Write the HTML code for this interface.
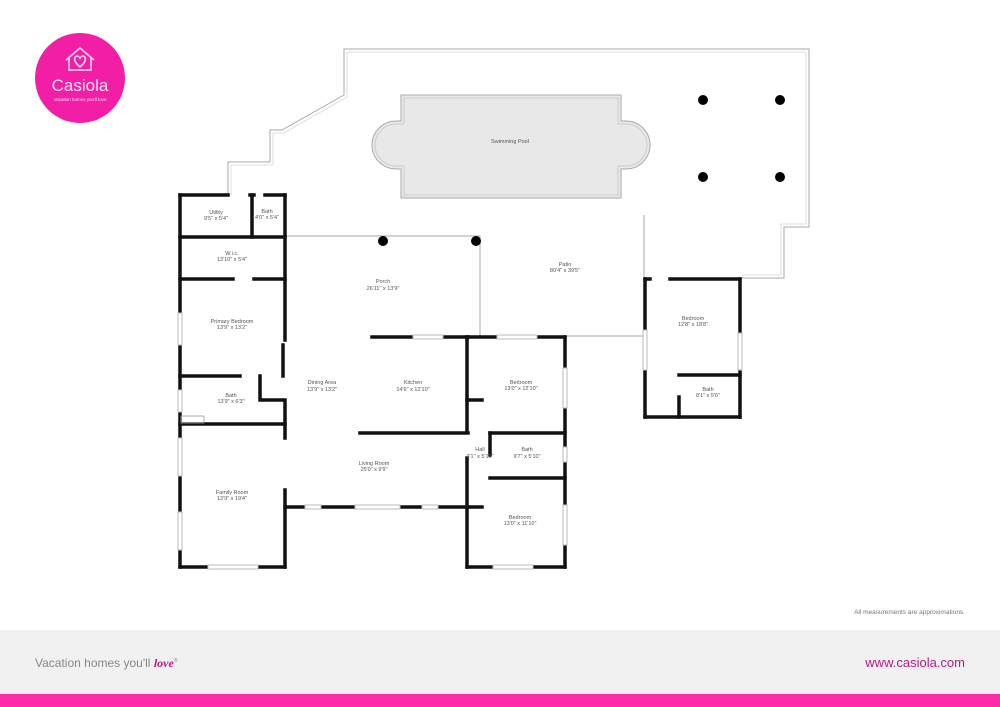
<!DOCTYPE html>
<html><head><meta charset="utf-8"><style>
html,body{margin:0;padding:0;background:#fff;width:1000px;height:707px;overflow:hidden;font-family:"Liberation Sans",sans-serif}
</style></head><body>
<svg width="1000" height="707" viewBox="0 0 1000 707" xmlns="http://www.w3.org/2000/svg" font-family="Liberation Sans, sans-serif">
<rect width="1000" height="707" fill="#fff"/>
<!-- logo -->
<circle cx="80" cy="78" r="45" fill="#f21fa6"/>
<g stroke="#ffd7f0" stroke-width="1.6" fill="none">
<path d="M66 60 L80 48 L94 60 M69 58 V70 H91 V58"/>
<path d="M80 67 C74 62 73 57 77 56 C79 56 80 58 80 59 C80 58 81 56 83 56 C87 57 86 62 80 67 Z"/>
</g>
<text x="80" y="91" font-size="17" fill="#ffe3f4" text-anchor="middle">Casiola</text>
<text x="80" y="101" font-size="4.5" fill="#ffe3f4" text-anchor="middle">Vacation homes you'll love</text>

<!-- patio outline -->
<g fill="none" stroke="#aaa" stroke-width="1">
<polyline points="228,195 228,162 270,162 270,130 282,130 344,95 344,49 809,49 809,227 784,227 784,278 742,278"/>
<polyline points="231,195 231,165 273,165 273,133 284,133 347,97 347,52 806,52 806,224 781,224 781,275 742,275" stroke="#ddd"/>
<polyline points="285,236 480,236 480,336"/>
<line x1="565" y1="336" x2="645" y2="336"/>
<line x1="644" y1="215" x2="644" y2="278"/>
</g>
<!-- pool -->
<path d="M401 95 H621 V121 H626 A24 24 0 0 1 626 169 H621 V198 H401 V169 H396 A24 24 0 0 1 396 121 H401 Z" fill="#e8e8e8" stroke="#aaa" stroke-width="1"/>
<path d="M404 98 H618 V124 H626 A21 21 0 0 1 626 166 H618 V195 H404 V166 H396 A21 21 0 0 1 396 124 H404 Z" fill="#e8e8e8" stroke="#ccc" stroke-width="1"/>
<g fill="#000">
<circle cx="703" cy="100" r="5"/><circle cx="780" cy="100" r="5"/>
<circle cx="703" cy="177" r="5"/><circle cx="780" cy="177" r="5"/>
<circle cx="383" cy="241" r="5"/><circle cx="476" cy="241" r="5"/>
</g>

<!-- walls -->
<g stroke="#111" stroke-width="3.5" fill="none" stroke-linecap="square">
<line x1="180" y1="195" x2="180" y2="567"/>
<line x1="180" y1="195" x2="228" y2="195"/>
<line x1="250" y1="195" x2="254" y2="195"/>
<line x1="265" y1="195" x2="285" y2="195"/>
<line x1="285" y1="195" x2="285" y2="340"/>
<line x1="252" y1="195" x2="252" y2="237"/>
<line x1="180" y1="237" x2="285" y2="237"/>
<line x1="180" y1="279" x2="233" y2="279"/>
<line x1="254" y1="279" x2="285" y2="279"/>
<line x1="283" y1="345" x2="283" y2="376"/>
<line x1="180" y1="376" x2="240" y2="376"/>
<polyline points="260,376 260,400 285,400 285,438"/>
<line x1="180" y1="424" x2="285" y2="424"/>
<line x1="285" y1="490" x2="285" y2="567"/>
<line x1="180" y1="567" x2="285" y2="567"/>
<line x1="285" y1="507" x2="482" y2="507"/>
<line x1="372" y1="337" x2="468" y2="337"/>
<line x1="360" y1="433" x2="468" y2="433"/>
<line x1="467" y1="337" x2="467" y2="432"/>
<line x1="467" y1="458" x2="467" y2="567"/>
<line x1="467" y1="400" x2="482" y2="400"/>
<line x1="467" y1="337" x2="565" y2="337"/>
<line x1="565" y1="337" x2="565" y2="567"/>
<line x1="490" y1="433" x2="565" y2="433"/>
<line x1="490" y1="433" x2="490" y2="455"/>
<line x1="490" y1="478" x2="565" y2="478"/>
<line x1="467" y1="567" x2="565" y2="567"/>
<line x1="645" y1="279" x2="645" y2="417"/>
<line x1="645" y1="279" x2="650" y2="279"/>
<line x1="670" y1="279" x2="740" y2="279"/>
<line x1="740" y1="279" x2="740" y2="417"/>
<line x1="645" y1="417" x2="740" y2="417"/>
<line x1="679" y1="375" x2="740" y2="375"/>
<line x1="679" y1="397" x2="679" y2="417"/>
</g>
<!-- windows -->
<g fill="#fff" stroke="#bbb" stroke-width="1">
<rect x="178" y="313" width="4" height="32"/>
<rect x="178" y="390" width="4" height="22"/>
<rect x="178" y="438" width="4" height="38"/>
<rect x="178" y="512" width="4" height="38"/>
<rect x="208" y="565" width="50" height="4"/>
<rect x="305" y="505" width="16" height="4"/>
<rect x="355" y="505" width="45" height="4"/>
<rect x="422" y="505" width="16" height="4"/>
<rect x="413" y="335" width="30" height="4"/>
<rect x="497" y="335" width="40" height="4"/>
<rect x="563" y="368" width="4" height="40"/>
<rect x="563" y="447" width="4" height="15"/>
<rect x="563" y="505" width="4" height="40"/>
<rect x="493" y="565" width="40" height="4"/>
<rect x="643" y="330" width="4" height="40"/>
<rect x="738" y="333" width="4" height="37"/>
</g>
<rect x="181" y="416" width="23" height="7" fill="none" stroke="#999" stroke-width="0.8"/>

<!-- labels -->
<g font-size="5.5" fill="#555" text-anchor="middle">
<text x="510" y="143">Swimming Pool</text>
<text x="216" y="214">Utility</text><text x="216" y="220">9'5" x 5'4"</text>
<text x="267" y="213">Bath</text><text x="267" y="219">4'0" x 5'4"</text>
<text x="232" y="255">W.i.c.</text><text x="232" y="261">13'10" x 5'4"</text>
<text x="383" y="283">Porch</text><text x="383" y="290">26'11" x 13'9"</text>
<text x="565" y="266">Patio</text><text x="565" y="272">80'4" x 39'5"</text>
<text x="232" y="323">Primary Bedroom</text><text x="232" y="329">13'9" x 13'2"</text>
<text x="322" y="384">Dining Area</text><text x="322" y="391">13'9" x 13'2"</text>
<text x="413" y="384">Kitchen</text><text x="413" y="391">14'6" x 12'10"</text>
<text x="231" y="397">Bath</text><text x="231" y="403">13'9" x 6'3"</text>
<text x="374" y="465">Living Room</text><text x="374" y="471">25'0" x 9'9"</text>
<text x="232" y="494">Family Room</text><text x="232" y="500">13'9" x 19'4"</text>
<text x="521" y="384">Bedroom</text><text x="521" y="390">13'0" x 12'10"</text>
<text x="480" y="451">Hall</text><text x="480" y="458">3'1" x 5'10"</text>
<text x="527" y="451">Bath</text><text x="527" y="458">9'7" x 5'10"</text>
<text x="520" y="519">Bedroom</text><text x="520" y="525">13'0" x 11'10"</text>
<text x="693" y="320">Bedroom</text><text x="693" y="326">12'8" x 18'8"</text>
<text x="708" y="391">Bath</text><text x="708" y="397">8'1" x 5'6"</text>
</g>
<text x="965" y="614" font-size="6.5" fill="#777" text-anchor="end">All measurements are approximations.</text>

<!-- footer -->
<rect x="0" y="630" width="1000" height="64" fill="#f1f1f1"/>
<rect x="0" y="694" width="1000" height="13" fill="#ff2aa6"/>
<text x="35" y="667" font-size="12" fill="#888">Vacation homes you'll <tspan fill="#c0168a" font-style="italic" font-weight="bold" font-family="Liberation Serif, serif">love</tspan><tspan font-size="5" dy="-5">®</tspan></text>
<text x="965" y="667" font-size="13" fill="#c0168a" text-anchor="end">www.casiola.com</text>
</svg>
</body></html>
